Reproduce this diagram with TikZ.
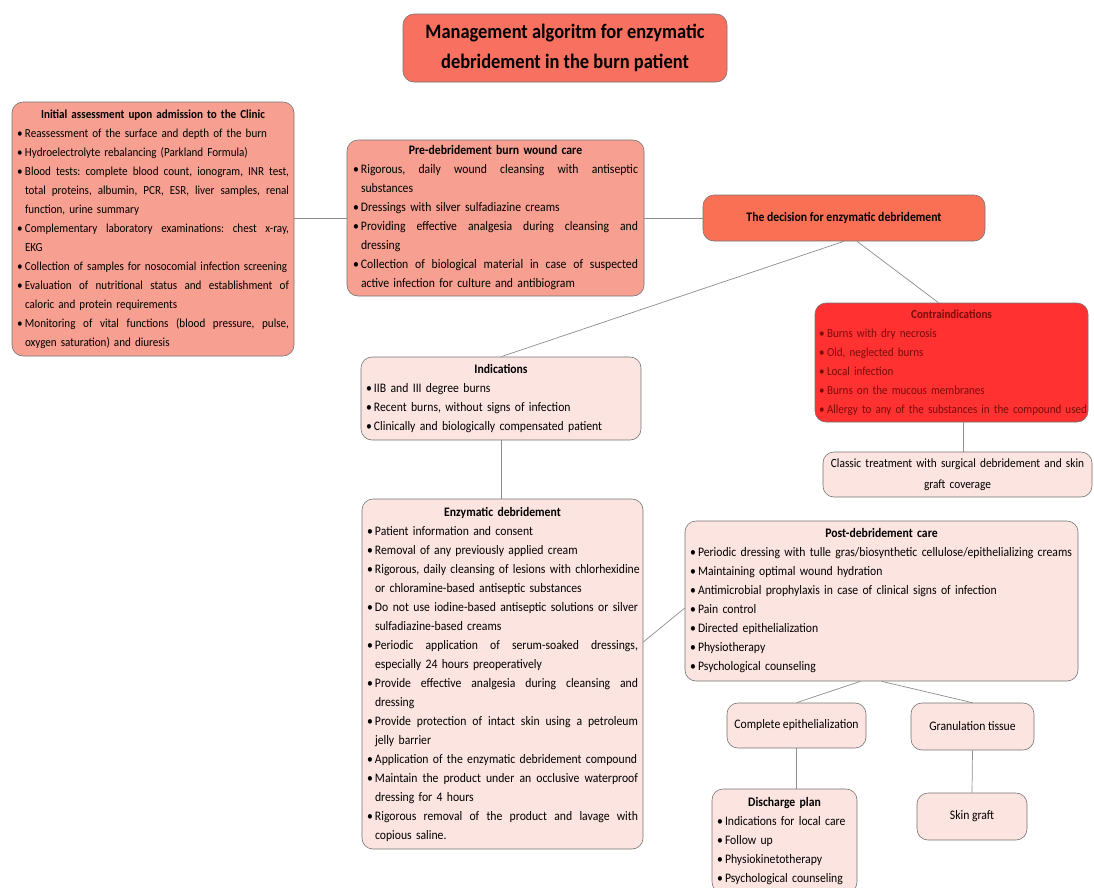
\documentclass[tikz,border=0pt]{standalone}
\usepackage{fontspec}
\setmainfont{Carlito}[FakeStretch=0.9]
\usepackage{tikz}
\usetikzlibrary{positioning}
\definecolor{coral}{HTML}{F87060}
\definecolor{salmon}{HTML}{F7A091}
\definecolor{decision}{HTML}{FA7055}
\definecolor{alarm}{HTML}{FF3131}
\definecolor{blush}{HTML}{FCE4E0}
\definecolor{darkred}{HTML}{7A0C0C}
\tikzset{
	box/.style={draw=black!55, line width=0.6pt, rounded corners=11pt,
		inner xsep=5pt, inner ysep=2pt, font=\fontsize{13}{19}\selectfont, align=left},
	titlebox/.style={box, fill=coral, align=center, font=\fontsize{20.5}{30}\selectfont\bfseries},
	link/.style={draw=black!45, line width=0.7pt}
}
\frenchspacing
\newlength{\bw}
\setlength{\bw}{8pt}
% heading, bullet lines (plain / justified), continuation lines
\newcommand{\hd}[1]{\makebox[\hsize][c]{\bfseries #1}}
\newcommand{\js}[1]{\makebox[\dimexpr\hsize-\bw\relax][s]{\spaceskip=.25em plus 1fil\relax #1}}
\newcommand{\bl}[1]{\makebox[\bw][l]{\textbullet}\mbox{#1}}
\newcommand{\bj}[1]{\makebox[\bw][l]{\textbullet}\js{#1}}
\newcommand{\cl}[1]{\hspace*{\bw}\mbox{#1}}
\newcommand{\cj}[1]{\hspace*{\bw}\js{#1}}

\begin{document}
\begin{tikzpicture}[x=1pt,y=-1pt]
	\useasboundingbox (0,0) rectangle (1094,887);

	% ==================================================
	% 1. TITLE AND FIRST ROW
	% ==================================================
	\node[titlebox, minimum width=324, minimum height=68] (title) at (565,48)
		{Management algoritm for enzymatic\\debridement in the burn patient};

	\node[box, fill=salmon, minimum width=282, minimum height=254, text width=272,
		font=\fontsize{12.3}{19}\selectfont] (init) at (153,229) {%
		\hd{Initial assessment upon admission to the Clinic}\\
		\bl{Reassessment of the surface and depth of the burn}\\
		\bl{Hydroelectrolyte rebalancing (Parkland Formula)}\\
		\bj{Blood tests: complete blood count, ionogram, INR test,}\\
		\cj{total proteins, albumin, PCR, ESR, liver samples, renal}\\
		\cl{function, urine summary}\\
		\bj{Complementary laboratory examinations: chest x-ray,}\\
		\cl{EKG}\\
		\bl{Collection of samples for nosocomial infection screening}\\
		\bj{Evaluation of nutritional status and establishment of}\\
		\cl{caloric and protein requirements}\\
		\bj{Monitoring of vital functions (blood pressure, pulse,}\\
		\cl{oxygen saturation) and diuresis}};

	\node[box, fill=salmon, minimum width=297, minimum height=156, text width=285,
		inner xsep=6pt] (pre) at (495.5,218) {%
		\hd{Pre-debridement burn wound care}\\
		\bj{Rigorous, daily wound cleansing with antiseptic}\\
		\cl{substances}\\
		\bl{Dressings with silver sulfadiazine creams}\\
		\bj{Providing effective analgesia during cleansing and}\\
		\cl{dressing}\\
		\bj{Collection of biological material in case of suspected}\\
		\cl{active infection for culture and antibiogram}};

	\node[box, fill=decision, minimum width=282, minimum height=46, align=center] (dec) at (844,218)
		{\bfseries The decision for enzymatic debridement};

	% ==================================================
	% 2. CONTRAINDICATIONS AND INDICATIONS
	% ==================================================
	\node[box, fill=alarm, text=darkred, minimum width=273, minimum height=119, text width=265,
		inner xsep=4pt, font=\fontsize{12.3}{19}\selectfont] (contra) at (951.5,362.5) {%
		\hd{Contraindications}\\
		\bl{Burns with dry necrosis}\\
		\bl{Old, neglected burns}\\
		\bl{Local infection}\\
		\bl{Burns on the mucous membranes}\\
		\bl{Allergy to any of the substances in the compound used}};

	\node[box, fill=blush, minimum width=269, minimum height=45, text width=259, align=center,
		font=\fontsize{12.6}{21}\selectfont] (classic) at (957.5,474.5)
		{Classic treatment with surgical debridement and skin\\graft coverage};

	\node[box, fill=blush, minimum width=280, minimum height=83, text width=270] (ind) at (501,398.5) {%
		\hd{Indications}\\
		\bl{IIB and III degree burns}\\
		\bl{Recent burns, without signs of infection}\\
		\bl{Clinically and biologically compensated patient}};

	% ==================================================
	% 3. ENZYMATIC DEBRIDEMENT AND AFTERCARE
	% ==================================================
	\node[box, fill=blush, minimum width=281, minimum height=350, text width=271] (enz) at (502.5,674) {%
		\hd{Enzymatic debridement}\\
		\bl{Patient information and consent}\\
		\bl{Removal of any previously applied cream}\\
		\bl{Rigorous, daily cleansing of lesions with chlorhexidine}\\
		\cl{or chloramine-based antiseptic substances}\\
		\bj{Do not use iodine-based antiseptic solutions or silver}\\
		\cl{sulfadiazine-based creams}\\
		\bj{Periodic application of serum-soaked dressings,}\\
		\cl{especially 24 hours preoperatively}\\
		\bj{Provide effective analgesia during cleansing and}\\
		\cl{dressing}\\
		\bj{Provide protection of intact skin using a petroleum}\\
		\cl{jelly barrier}\\
		\bl{Application of the enzymatic debridement compound}\\
		\bj{Maintain the product under an occlusive waterproof}\\
		\cl{dressing for 4 hours}\\
		\bj{Rigorous removal of the product and lavage with}\\
		\cl{copious saline.}};

	\node[box, fill=blush, minimum width=393, minimum height=160, text width=383] (post) at (881.5,601) {%
		\hd{Post-debridement care}\\
		\bl{Periodic dressing with tulle gras/biosynthetic cellulose/epithelializing creams}\\
		\bl{Maintaining optimal wound hydration}\\
		\bl{Antimicrobial prophylaxis in case of clinical signs of infection}\\
		\bl{Pain control}\\
		\bl{Directed epithelialization}\\
		\bl{Physiotherapy}\\
		\bl{Psychological counseling}};

	\node[box, fill=blush, minimum width=139, minimum height=45, align=center] (compl) at (796.5,725.5)
		{Complete epithelialization};
	\node[box, fill=blush, minimum width=123, minimum height=47, align=center] (gran) at (972.5,726.5)
		{Granulation tissue};

	\node[box, fill=blush, minimum width=145, minimum height=104, text width=135] (disch) at (784.5,841) {%
		\hd{Discharge plan}\\
		\bl{Indications for local care}\\
		\bl{Follow up}\\
		\bl{Physiokinetotherapy}\\
		\bl{Psychological counseling}};
	\node[box, fill=blush, minimum width=110, minimum height=47, align=center] (skin) at (972,816.5)
		{Skin graft};

	% ==================================================
	% 4. CONNECTORS
	% ==================================================
	\draw[link] (pre.west) -- (pre.west -| init.east);
	\draw[link] (pre.east) -- (dec.west);
	\draw[link] (dec.south) -- (ind.north);
	\draw[link] ([xshift=13pt]dec.south) -- ([xshift=-13pt]contra.north);
	\draw[link] ([xshift=6pt]classic.north |- contra.south) -- ([xshift=6pt]classic.north);
	\draw[link] (ind.south) -- (ind.south |- enz.north);
	\draw[link] ([yshift=32pt]enz.east) -- ([yshift=-7pt]post.west);
	\draw[link] ([xshift=-21pt]post.south) -- (compl.north);
	\draw[link] (post.south) -- (gran.north);
	\draw[link] (compl.south) -- (compl.south |- disch.north);
	\draw[link] (gran.south) -- (skin.north);

\end{tikzpicture}
\end{document}
